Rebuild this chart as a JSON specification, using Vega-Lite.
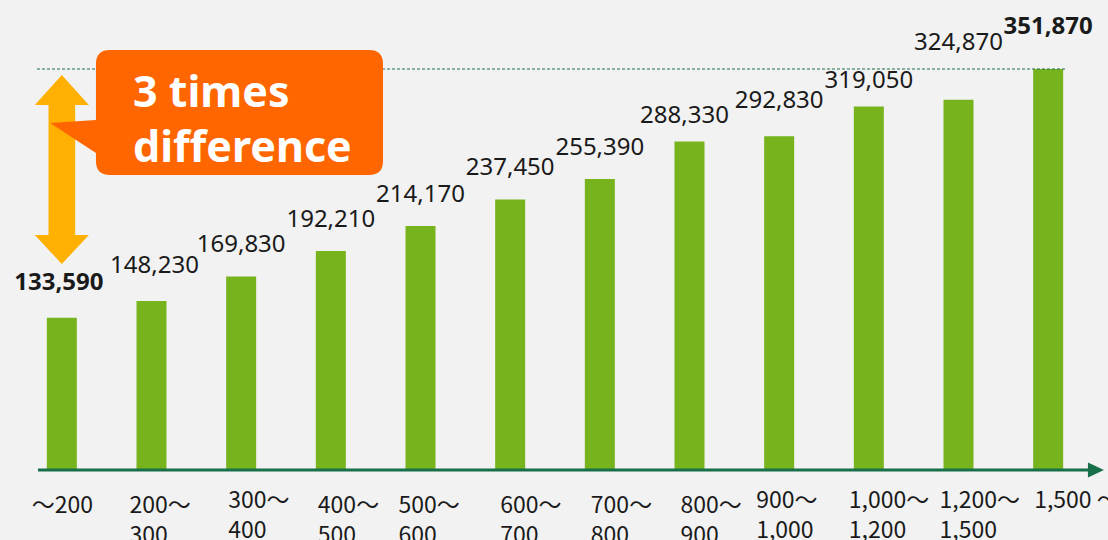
{
  "$schema": "https://vega.github.io/schema/vega-lite/v6.json",
  "width": 1076,
  "height": 470,
  "autosize": {"type": "none"},
  "padding": {"left": 17, "top": 0, "right": 15, "bottom": 70},
  "background": "#f2f2f2",
  "config": {"view": {"stroke": null}, "font": "Noto Sans"},
  "datasets": {
    "bars": [
      {"range": "～200", "v": 133590},
      {"range": "200～300", "v": 148230},
      {"range": "300～400", "v": 169830},
      {"range": "400～500", "v": 192210},
      {"range": "500～600", "v": 214170},
      {"range": "600～700", "v": 237450},
      {"range": "700～800", "v": 255390},
      {"range": "800～900", "v": 288330},
      {"range": "900～1,000", "v": 292830},
      {"range": "1,000～1,200", "v": 319050},
      {"range": "1,200～1,500", "v": 324870},
      {"range": "1,500～", "v": 351870}
    ]
  },
  "layer": [
    {
      "data": {"name": "bars"},
      "mark": {"type": "bar", "size": 30, "color": "#76b31c"},
      "encoding": {
        "x": {
          "field": "range", "type": "nominal", "sort": null,
          "scale": {"paddingInner": 0, "paddingOuter": 0},
          "axis": {
            "title": null, "domain": false, "ticks": false,
            "labelAngle": 0, "labelFont": "Noto Sans CJK JP", "labelFontSize": 23, "labelColor": "#1a1a1a",
            "labelBaseline": "top", "labelAlign": "left", "labelLineHeight": 30,
            "labelOverlap": false, "labelBound": false, "labelFlush": false, "labelLimit": 0,
            "labelPadding": {
              "condition": {"test": "indexof(['300～400','900～1,000','1,000～1,200','1,200～1,500','1,500～'], datum.value) >= 0", "value": 19},
              "value": 24
            },
            "labelOffset": {
              "condition": [
                {"test": "datum.value === '～200'", "value": -30},
                {"test": "datum.value === '200～300'", "value": -22},
                {"test": "datum.value === '300～400'", "value": -13},
                {"test": "datum.value === '400～500'", "value": -13},
                {"test": "datum.value === '500～600'", "value": -22},
                {"test": "datum.value === '600～700'", "value": -10},
                {"test": "datum.value === '700～800'", "value": -9},
                {"test": "datum.value === '800～900'", "value": -9},
                {"test": "datum.value === '900～1,000'", "value": -23},
                {"test": "datum.value === '1,000～1,200'", "value": -20},
                {"test": "datum.value === '1,200～1,500'", "value": -19}
              ],
              "value": -14
            },
            "labelExpr": "datum.value === '1,500～' ? '1,500 ～' : (indexof(datum.value, '～') > 0 ? [slice(datum.value, 0, indexof(datum.value, '～') + 1), slice(datum.value, indexof(datum.value, '～') + 1)] : datum.value)"
          }
        },
        "y": {"field": "v", "type": "quantitative", "scale": {"domain": [0, 412416], "nice": false, "zero": false}, "axis": null}
      }
    },
    {
      "data": {"name": "bars"},
      "mark": {
        "type": "text", "fontSize": 24, "font": "Noto Sans", "color": "#1a1a1a",
        "baseline": "alphabetic", "align": "center",
        "dy": {"expr": "datum.v === 324870 ? -50 : datum.v === 351870 ? -35 : (datum.v === 288330 || datum.v === 319050) ? -18 : (datum.v === 148230 || datum.v === 292830 || datum.v === 133590) ? -28 : -24"},
        "dx": {"expr": "datum.v === 133590 ? -3 : datum.v === 148230 ? 3 : datum.v === 288330 ? -5 : 0"},
        "fontWeight": {"expr": "(datum.v === 133590 || datum.v === 351870) ? 'bold' : 'normal'"}
      },
      "encoding": {
        "x": {"field": "range", "type": "nominal", "sort": null, "scale": {"paddingInner": 0, "paddingOuter": 0}, "axis": null},
        "y": {"field": "v", "type": "quantitative", "scale": {"domain": [0, 412416], "nice": false, "zero": false}, "axis": null},
        "text": {"field": "v", "type": "quantitative", "format": ",d"}
      }
    },
    {
      "data": {"values": [{"fx": 0.223, "fx2": 11.71, "fy": 351870}]},
      "mark": {"type": "rule", "color": "#1f6e50", "strokeWidth": 1, "strokeDash": [3, 2]},
      "encoding": {
        "x": {"field": "fx", "type": "quantitative", "scale": {"domain": [0, 12], "nice": false, "zero": false}, "axis": null},
        "x2": {"field": "fx2"},
        "y": {"field": "fy", "type": "quantitative", "scale": {"domain": [0, 412416], "nice": false, "zero": false}, "axis": null}
      }
    },
    {
      "data": {"values": [{"fx": 0.234, "fx2": 11.99, "fy": 0}]},
      "mark": {"type": "rule", "color": "#17704a", "strokeWidth": 3},
      "encoding": {
        "x": {"field": "fx", "type": "quantitative", "scale": {"domain": [0, 12], "nice": false, "zero": false}, "axis": null},
        "x2": {"field": "fx2"},
        "y": {"field": "fy", "type": "quantitative", "scale": {"domain": [0, 412416], "nice": false, "zero": false}, "axis": null}
      }
    },
    {
      "data": {"values": [{"fx": 12.033, "fy": 0}]},
      "mark": {"type": "point", "shape": "M-1,-0.95 L1,0 L-1,0.95 Z", "size": 256, "filled": true, "opacity": 1, "color": "#17704a", "strokeWidth": 0},
      "encoding": {
        "x": {"field": "fx", "type": "quantitative", "scale": {"domain": [0, 12], "nice": false, "zero": false}, "axis": null},
        "y": {"field": "fy", "type": "quantitative", "scale": {"domain": [0, 412416], "nice": false, "zero": false}, "axis": null}
      }
    },
    {
      "data": {"values": [{"fx": 0.5, "fy": 263683}]},
      "mark": {"type": "point", "shape": "M0,-1 L0.286,-0.683 L0.141,-0.683 L0.141,0.693 L0.286,0.693 L0,1 L-0.286,0.693 L-0.141,0.693 L-0.141,-0.683 L-0.286,-0.683 Z", "size": 35721, "filled": true, "opacity": 1, "color": "#ffb000", "strokeWidth": 0},
      "encoding": {
        "x": {"field": "fx", "type": "quantitative", "scale": {"domain": [0, 12], "nice": false, "zero": false}, "axis": null},
        "y": {"field": "fy", "type": "quantitative", "scale": {"domain": [0, 412416], "nice": false, "zero": false}, "axis": null}
      }
    },
    {
      "data": {"values": [{"fx": 2.225, "fy": 313699}]},
      "mark": {"type": "point", "shape": "M-0.640,-0.375 L0.916,-0.375 Q1,-0.375 1,-0.291 L1,0.291 Q1,0.375 0.916,0.375 L-0.640,0.375 Q-0.724,0.375 -0.724,0.291 L-0.724,0.243 L-1,0.063 L-0.724,0.045 L-0.724,-0.291 Q-0.724,-0.375 -0.640,-0.375 Z", "size": 110889, "filled": true, "opacity": 1, "color": "#ff6600", "strokeWidth": 0},
      "encoding": {
        "x": {"field": "fx", "type": "quantitative", "scale": {"domain": [0, 12], "nice": false, "zero": false}, "axis": null},
        "y": {"field": "fy", "type": "quantitative", "scale": {"domain": [0, 412416], "nice": false, "zero": false}, "axis": null}
      }
    },
    {
      "data": {"values": [{"fx": 1.294, "fy": 318525, "label": "3 times\ndifference"}]},
      "mark": {"type": "text", "align": "left", "baseline": "alphabetic", "lineBreak": "\n", "lineHeight": 55, "fontSize": 43, "fontWeight": "bold", "font": "Noto Sans", "color": "#ffffff"},
      "encoding": {
        "x": {"field": "fx", "type": "quantitative", "scale": {"domain": [0, 12], "nice": false, "zero": false}, "axis": null},
        "y": {"field": "fy", "type": "quantitative", "scale": {"domain": [0, 412416], "nice": false, "zero": false}, "axis": null},
        "text": {"field": "label"}
      }
    }
  ],
  "resolve": {"scale": {"x": "independent"}}
}
